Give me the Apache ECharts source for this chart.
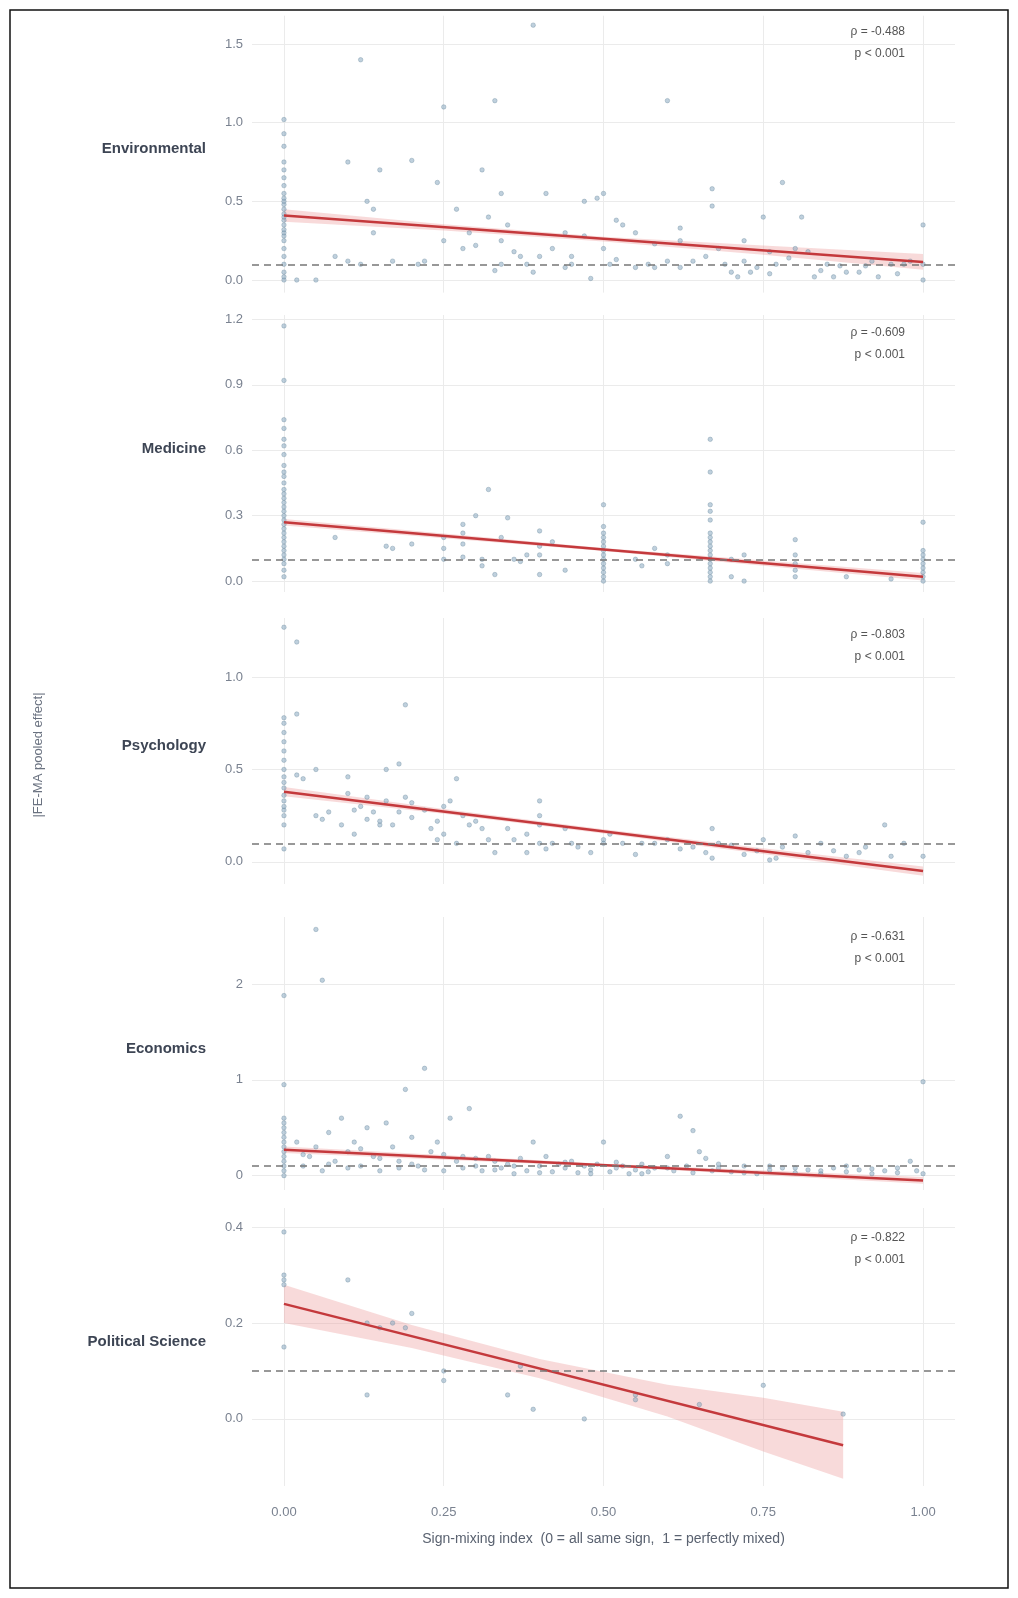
<!DOCTYPE html>
<html><head><meta charset="utf-8">
<script src="https://cdn.jsdelivr.net/npm/echarts@6/dist/echarts.min.js"></script>
<style>html,body{margin:0;padding:0;background:#fff}#c{width:1018px;height:1598px}</style>
</head><body><div id="c"></div>
<script>
const panelNames = ['Environmental','Medicine','Psychology','Economics','Political Science'];
const rhoLabels = ['ρ = -0.488','ρ = -0.609','ρ = -0.803','ρ = -0.631','ρ = -0.822'];
const pLabels = ['p < 0.001','p < 0.001','p < 0.001','p < 0.001','p < 0.001'];
const xTicks = [0, 0.25, 0.5, 0.75, 1];
const yTicksEnv = [0, 0.5, 1.0, 1.5];
const yTicksMed = [0, 0.3, 0.6, 0.9, 1.2];
const yTicksPsy = [0, 0.5, 1.0];
const yTicksEco = [0, 1, 2];
const yTicksPol = [0, 0.2, 0.4];
const threshold = 0.1;

const pointsEnv = [[0,0],[0,0.02],[0,0.05],[0,0.1],[0,0.15],[0,0.2],[0,0.25],[0,0.28],[0,0.3],[0,0.32],[0,0.35],[0,0.38],[0,0.4],[0,0.42],[0,0.45],[0,0.48],[0,0.5],[0,0.52],[0,0.55],[0,0.6],[0,0.65],[0,0.7],[0,0.75],[0,0.85],[0,0.93],[0,1.02],
[0.02,0],[0.05,0],[0.1,0.75],[0.12,1.4],[0.13,0.5],[0.14,0.45],[0.14,0.3],[0.15,0.7],[0.08,0.15],[0.12,0.1],[0.2,0.76],[0.21,0.1],[0.25,1.1],[0.25,0.25],[0.24,0.62],[0.27,0.45],[0.28,0.2],[0.29,0.3],[0.3,0.22],[0.31,0.7],[0.32,0.4],[0.33,1.14],[0.34,0.55],[0.34,0.25],[0.35,0.35],[0.36,0.18],[0.37,0.15],[0.39,0.05],[0.39,1.62],[0.4,0.15],[0.41,0.55],[0.42,0.2],[0.44,0.3],[0.45,0.1],[0.45,0.15],[0.47,0.5],[0.47,0.28],[0.48,0.01],[0.49,0.52],[0.5,0.55],[0.5,0.2],[0.51,0.1],[0.52,0.38],[0.53,0.35],[0.55,0.3],[0.57,0.1],[0.58,0.23],[0.6,1.14],[0.6,0.12],[0.62,0.33],[0.62,0.25],[0.66,0.15],[0.67,0.58],[0.67,0.47],[0.7,0.05],[0.71,0.02],[0.72,0.12],[0.74,0.08],[0.75,0.4],[0.76,0.04],[0.78,0.62],[0.79,0.14],[0.8,0.2],[0.81,0.4],[0.82,0.18],[0.84,0.06],[0.85,0.1],[0.86,0.02],[0.88,0.05],[0.9,0.05],[0.92,0.12],[0.93,0.02],[0.95,0.1],[0.96,0.04],[1,0.35],[1,0],[1,0.1],[0.62,0.08],[0.55,0.08],[0.72,0.25],[0.76,0.18],[0.68,0.2],[0.58,0.08],[0.52,0.13],[0.44,0.08],[0.38,0.1],[0.34,0.1],[0.33,0.06],[0.17,0.12],[0.1,0.12],[0.22,0.12],[0.64,0.12],[0.69,0.1],[0.73,0.05],[0.77,0.1],[0.83,0.02],[0.87,0.09],[0.91,0.09],[0.97,0.1],[0.98,0.12]];

const pointsMed = [[0,0.02],[0,0.05],[0,0.08],[0,0.1],[0,0.12],[0,0.14],[0,0.16],[0,0.18],[0,0.2],[0,0.22],[0,0.24],[0,0.26],[0,0.28],[0,0.3],[0,0.32],[0,0.34],[0,0.36],[0,0.38],[0,0.4],[0,0.42],[0,0.45],[0,0.48],[0,0.5],[0,0.53],[0,0.58],[0,0.62],[0,0.65],[0,0.7],[0,0.74],[0,0.92],[0,1.17],
[0.08,0.2],[0.16,0.16],[0.17,0.15],[0.2,0.17],[0.25,0.15],[0.25,0.2],[0.25,0.1],[0.28,0.17],[0.28,0.22],[0.28,0.26],[0.28,0.11],[0.3,0.3],[0.31,0.07],[0.31,0.1],[0.32,0.42],[0.33,0.03],[0.34,0.2],[0.35,0.29],[0.36,0.1],[0.37,0.09],[0.38,0.12],[0.4,0.16],[0.4,0.12],[0.4,0.03],[0.4,0.23],[0.42,0.18],[0.44,0.05],
[0.5,0.0],[0.5,0.02],[0.5,0.04],[0.5,0.06],[0.5,0.08],[0.5,0.1],[0.5,0.12],[0.5,0.14],[0.5,0.16],[0.5,0.18],[0.5,0.2],[0.5,0.22],[0.5,0.25],[0.5,0.35],[0.55,0.1],[0.56,0.07],[0.58,0.15],[0.6,0.12],[0.6,0.08],
[0.667,0.0],[0.667,0.02],[0.667,0.04],[0.667,0.06],[0.667,0.08],[0.667,0.1],[0.667,0.12],[0.667,0.14],[0.667,0.16],[0.667,0.18],[0.667,0.2],[0.667,0.22],[0.667,0.28],[0.667,0.32],[0.667,0.35],[0.667,0.5],[0.667,0.65],[0.7,0.1],[0.7,0.02],[0.72,0.0],[0.72,0.12],
[0.8,0.02],[0.8,0.05],[0.8,0.08],[0.8,0.12],[0.8,0.19],[0.88,0.02],[0.95,0.01],[1,0.0],[1,0.02],[1,0.04],[1,0.06],[1,0.08],[1,0.1],[1,0.12],[1,0.14],[1,0.27]];

const pointsPsy = [[0,0.07],[0,0.2],[0,0.25],[0,0.28],[0,0.3],[0,0.33],[0,0.36],[0,0.4],[0,0.43],[0,0.46],[0,0.5],[0,0.55],[0,0.6],[0,0.65],[0,0.7],[0,0.75],[0,0.78],[0,1.27],[0.02,1.19],[0.02,0.8],
[0.02,0.47],[0.03,0.45],[0.05,0.5],[0.05,0.25],[0.06,0.23],[0.07,0.27],[0.09,0.2],[0.1,0.37],[0.1,0.46],[0.11,0.28],[0.11,0.15],[0.12,0.3],[0.13,0.23],[0.13,0.35],[0.14,0.27],[0.15,0.2],[0.15,0.22],[0.16,0.33],[0.16,0.5],[0.17,0.2],[0.18,0.53],[0.18,0.27],[0.19,0.85],[0.19,0.35],[0.2,0.32],[0.2,0.24],[0.22,0.28],[0.23,0.18],[0.24,0.22],[0.24,0.12],[0.25,0.15],[0.25,0.3],[0.26,0.33],[0.27,0.45],[0.27,0.1],[0.28,0.25],[0.29,0.2],[0.3,0.22],[0.31,0.18],[0.32,0.12],[0.33,0.05],[0.35,0.18],[0.36,0.12],[0.38,0.05],[0.38,0.15],[0.4,0.33],[0.4,0.25],[0.4,0.2],[0.4,0.1],[0.41,0.07],[0.42,0.1],[0.44,0.18],[0.45,0.1],[0.46,0.08],[0.48,0.05],[0.5,0.12],[0.5,0.1],[0.51,0.15],[0.53,0.1],[0.55,0.04],[0.56,0.1],[0.58,0.1],[0.6,0.12],[0.62,0.07],[0.64,0.08],[0.66,0.05],[0.67,0.18],[0.67,0.02],[0.68,0.1],[0.7,0.09],[0.72,0.04],[0.74,0.06],[0.75,0.12],[0.76,0.01],[0.77,0.02],[0.78,0.08],[0.8,0.14],[0.82,0.05],[0.84,0.1],[0.86,0.06],[0.88,0.03],[0.9,0.05],[0.91,0.08],[0.94,0.2],[0.95,0.03],[0.97,0.1],[1,0.03]];

const pointsEco = [[0,0.0],[0,0.05],[0,0.1],[0,0.15],[0,0.2],[0,0.25],[0,0.3],[0,0.35],[0,0.4],[0,0.45],[0,0.5],[0,0.55],[0,0.6],[0,0.95],[0,1.88],[0.05,2.57],[0.06,2.04],
[0.02,0.35],[0.03,0.1],[0.04,0.2],[0.05,0.3],[0.06,0.05],[0.07,0.45],[0.08,0.15],[0.09,0.6],[0.1,0.25],[0.11,0.35],[0.12,0.1],[0.13,0.5],[0.14,0.2],[0.15,0.05],[0.16,0.55],[0.17,0.3],[0.18,0.15],[0.19,0.9],[0.2,0.4],[0.21,0.1],[0.22,1.12],[0.23,0.25],[0.24,0.35],[0.25,0.05],[0.26,0.6],[0.27,0.15],[0.28,0.2],[0.29,0.7],[0.3,0.1],[0.31,0.05],[0.32,0.2],[0.33,0.15],[0.34,0.08],[0.35,0.12],[0.36,0.02],[0.37,0.18],[0.38,0.05],[0.39,0.35],[0.4,0.1],[0.41,0.2],[0.42,0.04],[0.43,0.12],[0.44,0.08],[0.45,0.15],[0.46,0.03],[0.47,0.1],[0.48,0.06],[0.49,0.12],[0.5,0.35],[0.51,0.04],[0.52,0.08],[0.53,0.1],[0.54,0.02],[0.55,0.06],[0.56,0.12],[0.57,0.04],[0.58,0.08],[0.6,0.2],[0.61,0.05],[0.62,0.62],[0.63,0.1],[0.64,0.47],[0.65,0.25],[0.66,0.18],[0.67,0.05],[0.68,0.08],[0.7,0.04],[0.72,0.1],[0.74,0.02],[0.76,0.06],[0.78,0.08],[0.8,0.03],[0.82,0.06],[0.84,0.02],[0.86,0.08],[0.88,0.04],[0.9,0.06],[0.92,0.02],[0.94,0.05],[0.96,0.08],[0.98,0.15],[1,0.98],[1,0.02],
[0.03,0.22],[0.07,0.12],[0.1,0.08],[0.12,0.28],[0.15,0.18],[0.18,0.08],[0.2,0.12],[0.22,0.06],[0.25,0.22],[0.28,0.08],[0.3,0.18],[0.33,0.06],[0.36,0.1],[0.4,0.03],[0.44,0.14],[0.48,0.02],[0.52,0.14],[0.56,0.02],[0.6,0.08],[0.64,0.03],[0.68,0.12],[0.72,0.03],[0.76,0.1],[0.8,0.08],[0.84,0.05],[0.88,0.1],[0.92,0.07],[0.96,0.03],[0.99,0.05]];

const pointsPol = [[0,0.39],[0,0.3],[0,0.28],[0,0.15],[0,0.29],[0.1,0.29],[0.13,0.2],[0.13,0.05],[0.15,0.19],[0.17,0.2],[0.19,0.19],[0.2,0.22],[0.25,0.08],[0.25,0.1],[0.35,0.05],[0.37,0.11],[0.39,0.02],[0.47,0.0],[0.55,0.05],[0.55,0.04],[0.65,0.03],[0.75,0.07],[0.875,0.01]];

// fitted lines [x, fit, lo, hi]
const fitEnv = [[0,0.41,0.37,0.45],[0.25,0.335,0.315,0.355],[0.5,0.26,0.245,0.275],[0.75,0.19,0.16,0.22],[1,0.115,0.065,0.165]];
const fitMed = [[0,0.27,0.255,0.285],[0.5,0.145,0.138,0.152],[1,0.02,0.003,0.037]];
const fitPsy = [[0,0.38,0.355,0.405],[0.25,0.273,0.26,0.286],[0.5,0.165,0.153,0.177],[0.75,0.058,0.042,0.074],[1,-0.05,-0.075,-0.025]];
const fitEco = [[0,0.27,0.235,0.305],[0.5,0.11,0.095,0.125],[1,-0.05,-0.085,-0.015]];
const fitPol = [[0,0.24,0.2,0.28],[0.2,0.172,0.148,0.196],[0.4,0.105,0.085,0.125],[0.6,0.038,0.005,0.071],[0.75,-0.012,-0.068,0.044],[0.875,-0.055,-0.125,0.015]];

const panels = [
 {pts:pointsEnv, fit:fitEnv, ticks:yTicksEnv, min:-0.08, max:1.68, top:15.7, bottom:292.6, dec:1, ry:32},
 {pts:pointsMed, fit:fitMed, ticks:yTicksMed, min:-0.05, max:1.22, top:315, bottom:592, dec:1, ry:333},
 {pts:pointsPsy, fit:fitPsy, ticks:yTicksPsy, min:-0.12, max:1.32, top:618, bottom:884, dec:1, ry:635},
 {pts:pointsEco, fit:fitEco, ticks:yTicksEco, min:-0.15, max:2.7, top:917, bottom:1190, dec:0, ry:937},
 {pts:pointsPol, fit:fitPol, ticks:yTicksPol, min:-0.14, max:0.44, top:1208, bottom:1486, dec:1, ry:1238}
];

const grids=[], xAxes=[], yAxes=[], series=[], graphics=[];
const gridColor = '#ebebeb';
panels.forEach((p,i)=>{
  grids.push({left:252, right:63, top:p.top, height:p.bottom-p.top});
  const last = i===panels.length-1;
  xAxes.push({type:'value', gridIndex:i, min:-0.05, max:1.05,
    axisLine:{show:false}, axisTick:{show:false, customValues:xTicks},
    splitLine:{show:true, lineStyle:{color:gridColor, width:1}},
    axisLabel:{show:last, customValues:xTicks, formatter:v=>v.toFixed(2), color:'#7a8290', fontSize:13, margin:20, fontFamily:'Liberation Sans'},
    name: last ? 'Sign-mixing index  (0 = all same sign,  1 = perfectly mixed)' : '',
    nameLocation:'middle', nameGap:46, nameTextStyle:{color:'#5a6270', fontSize:14, fontFamily:'Liberation Sans'}});
  yAxes.push({type:'value', gridIndex:i, min:p.min, max:p.max,
    axisLine:{show:false}, axisTick:{show:false, customValues:p.ticks},
    splitLine:{show:true, lineStyle:{color:gridColor, width:1}},
    axisLabel:{customValues:p.ticks, formatter:v=>v.toFixed(p.dec), color:'#7a8290', fontSize:13, margin:9, fontFamily:'Liberation Sans'}});
  const fitData = p.fit;
  series.push({type:'custom', xAxisIndex:i, yAxisIndex:i, silent:true, z:2,
    data:[0],
    renderItem:(params, api)=>{
      const up = fitData.map(d=>api.coord([d[0], d[3]]));
      const lo = fitData.slice().reverse().map(d=>api.coord([d[0], d[2]]));
      return {type:'polygon', shape:{points:up.concat(lo)}, style:{fill:'rgba(236,150,150,0.35)'}};
    }});
  series.push({type:'scatter', xAxisIndex:i, yAxisIndex:i, data:p.pts, symbolSize:4.5, z:3,
    itemStyle:{color:'rgba(140,172,195,0.7)', borderColor:'rgba(95,128,150,0.7)', borderWidth:0.6}});
  series.push({type:'line', xAxisIndex:i, yAxisIndex:i, data:[[fitData[0][0],fitData[0][1]],[fitData[fitData.length-1][0],fitData[fitData.length-1][1]]], symbol:'none', z:4,
    lineStyle:{color:'#c4393c', width:2.5},
    markLine:{silent:true, symbol:'none', label:{show:false}, lineStyle:{color:'#777', type:[7,5], width:1.5}, data:[{yAxis:threshold}]}});
  graphics.push({type:'text', x:206, y:(p.top+p.bottom)/2-5,
    style:{text:panelNames[i], fill:'#3d4554', font:'bold 15px Liberation Sans', textAlign:'right', textVerticalAlign:'middle'}});
  graphics.push({type:'text', x:905, y:p.ry, style:{text:rhoLabels[i], fill:'#555', font:'12px Liberation Sans', textAlign:'right', textVerticalAlign:'middle'}});
  graphics.push({type:'text', x:905, y:p.ry+22, style:{text:pLabels[i], fill:'#555', font:'12px Liberation Sans', textAlign:'right', textVerticalAlign:'middle'}});
});
graphics.push({type:'text', x:38, y:755, rotation:Math.PI/2,
  style:{text:'|FE-MA pooled effect|', fill:'#6a7280', font:'13px Liberation Sans', textAlign:'center', textVerticalAlign:'middle'}});
graphics.push({type:'rect', shape:{x:10, y:10, width:998, height:1578}, style:{fill:'none', stroke:'#111', lineWidth:1.5}, z:-1});

const chart = echarts.init(document.getElementById('c'));
chart.setOption({animation:false, backgroundColor:'#fff', grid:grids, xAxis:xAxes, yAxis:yAxes, series, graphic:graphics});
</script></body></html>
